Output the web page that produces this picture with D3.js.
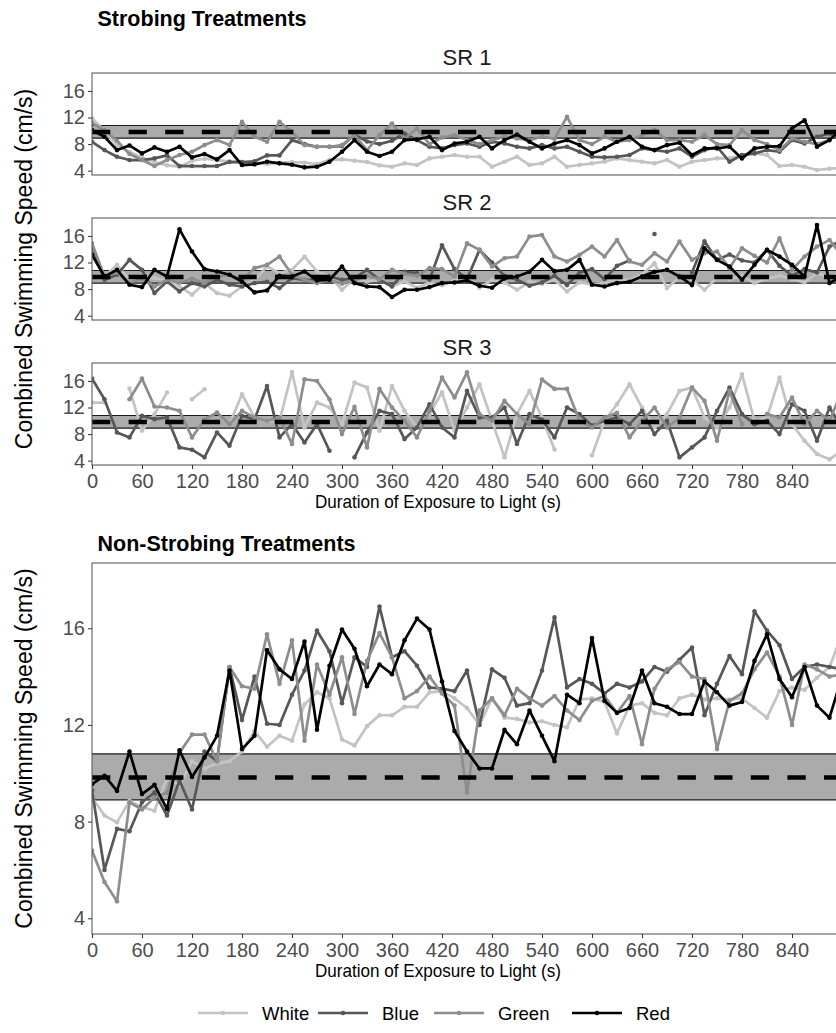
<!DOCTYPE html>
<html>
<head>
<meta charset="utf-8">
<script src="https://cdn.jsdelivr.net/npm/d3@7"></script>
<style>
  body { margin: 0; background: #fff; }
  svg { display: block; }
</style>
</head>
<body>
<svg id="chart" width="836" height="1033"></svg>
<script>
// Sampling times (s), every 15 s across the 15-minute exposure
const times = [0,15,30,45,60,75,90,105,120,135,150,165,180,195,210,225,240,255,270,285,300,315,330,345,360,375,390,405,420,435,450,465,480,495,510,525,540,555,570,585,600,615,630,645,660,675,690,705,720,735,750,765,780,795,810,825,840,855,870,885,900];

const xTickValues = [0,60,120,180,240,300,360,420,480,540,600,660,720,780,840];
const yTickValues = [4,8,12,16];

// Baseline (dark) swimming speed: mean and interval
const baseMean = 9.83;
const baseLow = 8.9;
const baseHigh = 10.8;

// ---- SR 1 ----
const sr1White = [11.9,10.0,7.8,6.8,6.0,5.3,4.8,4.6,5.5,5.8,5.6,5.4,5.3,5.2,5.0,5.2,5.3,5.2,5.0,5.6,5.7,5.5,5.3,4.8,4.6,5.1,4.85,
  5.85,6.1,6.35,6.1,6.1,4.6,5.35,6.1,4.85,5.1,6.1,4.6,4.85,5.1,5.35,5.85,5.6,5.35,5.1,5.6,4.6,5.35,5.6,5.85,5.85,6.35,6.6,6.35,4.7,4.85,4.6,4.1,4.3,4.4];
const sr1Blue = [8.35,7.1,6.1,5.6,5.6,5.85,6.3,4.7,4.7,4.7,4.7,5.3,5.3,5.4,6.3,6.3,8.6,8.0,7.6,7.6,7.7,9.4,8.4,8.0,8.5,9.6,8.6,
  7.6,7.35,7.85,8.1,7.6,8.35,8.1,7.6,7.35,7.85,7.35,7.6,6.85,6.1,6.0,6.1,6.35,7.35,7.1,6.85,7.35,6.1,7.1,7.6,5.35,6.35,6.6,7.1,6.85,8.6,8.1,9.1,9.6,8.4];
const sr1Green = [11.2,10.1,8.5,6.5,5.6,4.7,5.6,6.35,6.85,7.85,8.6,7.85,11.35,9.1,8.35,11.35,9.85,7.85,7.6,7.6,7.85,9.35,7.1,9.35,11.1,8.85,10.35,
  8.0,9.0,9.35,8.6,8.0,8.6,9.1,8.85,8.6,9.1,8.8,12.1,8.6,8.0,9.1,8.35,8.6,9.35,10.1,8.6,8.6,8.35,9.35,8.0,7.85,10.1,8.6,8.0,7.1,8.85,8.35,8.0,8.6,10.8];
const sr1Red = [10.1,9.1,7.1,7.8,6.6,7.5,6.85,7.6,6.0,6.5,5.7,7.1,4.85,4.95,5.35,5.1,4.9,4.5,4.6,5.35,6.85,8.6,6.85,6.2,6.85,8.6,8.7,
  9.1,7.1,8.1,8.35,9.1,7.35,8.6,9.45,8.35,7.35,8.1,8.6,7.85,6.6,7.35,8.35,9.1,7.6,7.1,7.85,8.2,6.35,7.35,7.35,7.6,5.85,7.35,7.6,7.7,10.35,11.6,7.6,8.6,10.5];

// ---- SR 2 ----
const sr2White = [13.9,9.9,11.65,9.4,9.9,9.65,9.4,8.4,7.15,8.9,7.4,7.0,8.4,9.4,11.4,10.4,10.9,12.9,10.65,9.9,7.9,9.65,9.15,9.4,8.4,9.15,8.2,
  9.0,8.6,9.3,9.8,8.2,9.4,9.0,7.9,9.1,8.8,9.4,7.65,9.0,8.7,8.9,9.5,9.3,10.2,11.9,8.15,9.8,9.4,7.9,9.7,9.5,10.0,8.9,9.6,10.0,9.5,9.0,10.4,9.8,10.5];
const sr2Blue = [14.4,9.4,10.15,12.4,10.9,7.4,9.15,7.65,8.9,8.4,9.4,8.65,8.4,8.9,9.1,8.15,9.65,9.4,9.4,9.9,9.4,9.65,10.9,9.4,8.4,10.6,10.4,
  9.4,14.6,11.0,9.5,13.9,12.0,10.0,9.4,8.5,9.0,10.0,8.6,10.5,11.0,9.5,11.5,12.3,null,16.3,null,null,10.5,15.2,12.4,13.2,12.3,12.0,13.9,11.5,10.0,11.0,10.5,14.4,15.4];
const sr2Green = [14.9,9.9,10.5,9.0,9.5,8.4,9.4,9.0,9.5,9.0,9.8,10.2,9.4,11.15,11.65,12.9,10.15,9.4,8.9,9.4,8.8,9.3,10.0,9.5,10.9,10.3,10.0,
  11.15,11.0,9.9,14.9,13.9,11.4,12.65,12.9,15.9,16.15,12.9,12.15,13.15,14.4,12.9,15.4,12.15,11.65,13.4,12.15,15.15,12.4,13.4,13.65,11.15,14.15,13.0,12.0,15.65,10.9,12.9,14.4,15.4,13.0];
const sr2Red = [13.15,9.9,10.9,8.65,8.3,10.9,9.9,17.0,13.65,11.0,10.65,10.15,9.15,7.5,7.8,10.0,9.9,10.65,9.3,9.4,11.4,8.9,8.4,8.3,6.8,7.9,7.9,
  8.3,8.9,9.0,9.3,8.5,8.2,9.6,9.9,10.6,12.4,10.7,10.9,12.4,8.65,8.4,8.9,9.1,9.9,10.6,10.9,9.9,8.6,14.15,12.4,11.4,9.4,11.65,13.9,12.9,11.65,9.9,17.65,8.9,10.0];

// ---- SR 3 (no Red recordings) ----
const sr3White = [12.75,12.75,null,14.85,8.5,11.0,14.25,null,13.25,14.75,null,9.5,14.0,10.5,10.0,10.0,17.35,9.0,12.75,12.0,9.5,15.75,15.0,8.5,15.25,11.5,9.0,
  11.0,14.3,8.5,12.0,15.5,10.0,4.5,11.0,14.5,10.5,5.7,null,null,4.8,10.0,12.5,15.5,12.0,9.0,11.0,14.5,15.0,10.5,9.0,12.0,17.0,10.0,10.5,16.5,9.5,7.0,5.0,4.2,5.5];
const sr3Blue = [16.35,13.25,8.25,7.5,10.75,10.25,10.5,6.0,5.65,4.5,8.25,6.25,10.75,10.2,15.25,7.5,9.5,6.75,9.5,5.5,null,4.5,8.25,11.5,11.0,7.25,9.0,
  12.5,9.0,7.5,14.5,10.5,10.5,12.0,6.5,11.0,10.2,7.5,12.0,11.0,9.3,10.0,10.5,9.5,11.5,8.0,10.0,4.5,6.0,7.5,11.5,15.0,11.0,9.5,10.0,8.0,12.5,11.5,7.0,12.0,9.0];
const sr3Green = [null,null,null,13.25,16.35,12.15,12.0,11.5,7.5,10.2,11.25,9.5,11.5,10.5,10.0,10.5,6.5,16.25,16.0,13.25,8.0,12.1,6.0,14.8,12.0,10.0,7.5,
  11.5,16.5,13.5,17.3,11.0,10.0,13.0,11.0,9.5,16.2,14.8,14.8,10.0,9.0,10.5,11.2,7.5,10.0,12.0,9.0,10.5,15.0,13.0,7.0,14.5,9.5,null,11.0,10.5,13.5,9.5,11.5,10.0,14.5];
const sr3Red = [];

// ---- Non-strobing ----
const nsWhite = [9.0,8.25,7.97,8.85,8.6,8.45,9.8,9.5,10.5,10.2,10.4,10.5,10.9,11.75,11.1,11.55,11.35,12.85,13.35,13.1,11.4,11.15,11.95,12.4,12.4,12.75,12.75,
  13.35,13.4,13.1,12.7,12.0,13.1,12.3,12.25,12.1,12.15,12.0,11.9,13.05,13.1,12.95,11.65,12.8,12.9,12.5,12.4,13.1,13.25,13.05,13.1,13.05,13.1,12.7,12.3,13.4,13.55,13.45,13.95,14.4,15.75];
const nsBlue = [9.3,6.0,7.7,7.6,8.8,9.2,8.25,9.7,8.5,10.9,10.5,14.4,12.2,14.0,12.05,12.0,13.25,14.25,15.9,15.05,12.9,14.8,14.4,16.9,14.8,15.05,14.45,
  13.55,13.5,13.4,14.25,12.0,14.3,13.95,12.8,12.9,14.25,16.45,13.55,13.9,13.7,13.3,13.7,13.55,13.8,14.4,14.2,14.7,15.2,12.4,13.7,14.85,14.1,16.7,15.9,15.3,13.9,14.4,14.5,14.4,14.3];
const nsGreen = [6.8,5.5,4.7,8.8,8.5,9.0,9.2,10.85,11.6,11.6,10.5,14.4,13.6,13.5,15.75,13.7,15.5,11.35,14.5,13.25,14.8,12.45,14.65,15.8,14.8,13.1,13.4,
  14.0,13.3,12.8,9.2,12.6,13.1,12.4,13.5,13.1,12.8,13.2,12.6,12.2,13.0,13.2,12.5,13.2,11.2,13.5,14.3,14.6,14.0,13.9,11.0,13.0,13.3,14.3,15.0,14.0,12.0,14.5,14.3,14.0,14.1];
const nsRed = [9.55,9.9,9.27,10.9,9.14,9.52,8.52,10.95,9.85,10.65,11.55,14.25,11.0,11.55,15.1,14.3,13.9,15.45,11.8,14.45,15.95,15.15,13.6,14.5,14.1,15.5,16.4,
  15.95,13.8,11.75,10.9,10.2,10.2,11.8,11.2,12.6,11.55,10.5,13.25,12.9,15.6,13.0,12.5,12.7,14.25,12.9,12.75,12.45,12.45,13.8,13.35,12.8,12.95,14.65,15.75,13.9,13.15,14.4,12.8,12.3,14.0];

const seriesNames = ["White", "Blue", "Green", "Red"];
const seriesColor = d3.scaleOrdinal()
  .domain(seriesNames)
  .range(["#c3c3c3", "#575757", "#8d8d8d", "#000000"]);

const panels = [
  { label: "SR 1", top: 73, height: 102, strip: true, xAxis: false,
    series: [sr1White, sr1Blue, sr1Green, sr1Red] },
  { label: "SR 2", top: 218, height: 102, strip: true, xAxis: false,
    series: [sr2White, sr2Blue, sr2Green, sr2Red] },
  { label: "SR 3", top: 363, height: 102, strip: true, xAxis: true,
    series: [sr3White, sr3Blue, sr3Green, sr3Red] },
  { label: null, top: 563, height: 371, strip: false, xAxis: true,
    series: [nsWhite, nsBlue, nsGreen, nsRed] }
];

const FONT = "'Liberation Sans', Arial, Helvetica, sans-serif";
const svg = d3.select("#chart").style("font-family", FONT);
svg.append("rect").attr("width", 836).attr("height", 1033).attr("fill", "#fff");

const left = 92, right = 842;
const x = d3.scaleLinear().domain([0, 900]).range([left, right]);
const yDomain = [3.35, 18.7];

panels.forEach((p, pi) => {
  const bottom = p.top + p.height;
  const y = d3.scaleLinear().domain(yDomain).range([bottom, p.top]);
  const g = svg.append("g");
  const clipId = "clip" + pi;
  svg.append("clipPath").attr("id", clipId)
    .append("rect").attr("x", left).attr("y", p.top)
    .attr("width", right - left).attr("height", p.height);

  const plot = g.append("g").attr("clip-path", `url(#${clipId})`);

  // baseline interval band
  plot.append("rect")
    .attr("x", left).attr("width", right - left)
    .attr("y", y(baseHigh)).attr("height", y(baseLow) - y(baseHigh))
    .attr("fill", "#ababab");
  [baseLow, baseHigh].forEach(v => {
    plot.append("line")
      .attr("x1", left).attr("x2", right)
      .attr("y1", y(v)).attr("y2", y(v))
      .attr("stroke", "#1a1a1a").attr("stroke-width", 1.2);
  });

  // series lines and points
  const line = d3.line()
    .defined(d => d.v != null)
    .x(d => x(d.t)).y(d => y(d.v));

  p.series.forEach((vals, si) => {
    const name = seriesNames[si];
    const pts = vals.map((v, i) => ({ t: times[i], v: v }));
    const col = seriesColor(name);
    plot.append("path")
      .datum(pts)
      .attr("d", line)
      .attr("fill", "none")
      .attr("stroke", col)
      .attr("stroke-width", 2.7)
      .attr("stroke-linejoin", "round");
    plot.append("g").selectAll("circle")
      .data(pts.filter(d => d.v != null))
      .join("circle")
      .attr("cx", d => x(d.t)).attr("cy", d => y(d.v))
      .attr("r", 2.3).attr("fill", col);
  });

  // baseline mean (dashed)
  plot.append("line")
    .attr("x1", left).attr("x2", right)
    .attr("y1", y(baseMean)).attr("y2", y(baseMean))
    .attr("stroke", "#000").attr("stroke-width", 4.5)
    .attr("stroke-dasharray", "18.3 18.3");

  // panel border
  g.append("rect")
    .attr("x", left).attr("y", p.top)
    .attr("width", right - left).attr("height", p.height)
    .attr("fill", "none").attr("stroke", "#5e5e5e").attr("stroke-width", 1.1);

  // y axis
  const yAxis = g.append("g").attr("transform", `translate(${left},0)`)
    .call(d3.axisLeft(y).tickValues(yTickValues).tickSize(4).tickPadding(3));
  yAxis.select(".domain").remove();
  yAxis.selectAll(".tick line").attr("stroke", "#333");
  yAxis.selectAll(".tick text").attr("fill", "#4d4d4d")
    .style("font-size", "20px").style("font-family", FONT);

  if (p.xAxis) {
    const xAxis = g.append("g").attr("transform", `translate(0,${bottom})`)
      .call(d3.axisBottom(x).tickValues(xTickValues).tickSize(4).tickPadding(4.5));
    xAxis.select(".domain").remove();
    xAxis.selectAll(".tick line").attr("stroke", "#333");
    xAxis.selectAll(".tick text").attr("fill", "#4d4d4d")
      .style("font-size", "20px").style("font-family", FONT);
    svg.append("text")
      .attr("x", 438).attr("y", bottom + 43)
      .attr("text-anchor", "middle")
      .style("font-size", "18.5px").attr("fill", "#000")
      .attr("textLength", 246).attr("lengthAdjust", "spacingAndGlyphs")
      .text("Duration of Exposure to Light (s)");
  }

  if (p.strip) {
    svg.append("text")
      .attr("x", (left + right) / 2).attr("y", p.top - 8)
      .attr("text-anchor", "middle")
      .style("font-size", "22px").attr("fill", "#1a1a1a")
      .text(p.label);
  }
});

// section titles
svg.append("text").attr("x", 97.5).attr("y", 26)
  .style("font-size", "21.5px").style("font-weight", "bold")
  .text("Strobing Treatments");
svg.append("text").attr("x", 97.5).attr("y", 550.7)
  .style("font-size", "21.5px").style("font-weight", "bold")
  .text("Non-Strobing Treatments");

// shared y titles
[[73, 465], [563, 934]].forEach(([t, b]) => {
  svg.append("text")
    .attr("transform", `translate(32,${(t + b) / 2}) rotate(-90)`)
    .attr("text-anchor", "middle")
    .style("font-size", "23px")
    .text("Combined Swimming Speed (cm/s)");
});

// legend
const legendY = 1013;
const legendItems = [
  { name: "White", x0: 198 },
  { name: "Blue", x0: 318 },
  { name: "Green", x0: 434 },
  { name: "Red", x0: 572 }
];
const leg = svg.append("g");
legendItems.forEach(it => {
  const col = seriesColor(it.name);
  leg.append("line")
    .attr("x1", it.x0).attr("x2", it.x0 + 50)
    .attr("y1", legendY).attr("y2", legendY)
    .attr("stroke", col).attr("stroke-width", 2.7);
  leg.append("circle").attr("cx", it.x0 + 25).attr("cy", legendY)
    .attr("r", 2.3).attr("fill", col);
  leg.append("text").attr("x", it.x0 + 64).attr("y", legendY + 7)
    .style("font-size", "18.5px")
    .text(it.name);
});
</script>
</body>
</html>
